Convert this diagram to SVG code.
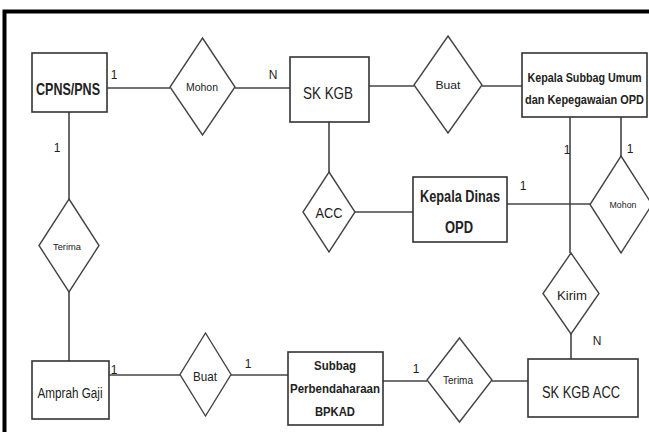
<svg xmlns="http://www.w3.org/2000/svg" width="649" height="432" viewBox="0 0 649 432">
<style>
.ent{fill:#fff;stroke:#333;stroke-width:1.6}
.rel{fill:#fff;stroke:#444;stroke-width:1.4}
.ln{stroke:#444;stroke-width:1.6;fill:none}
text{font-family:"Liberation Sans",Arial,sans-serif;fill:#222;text-anchor:middle}
.b{font-weight:bold}
.c{font-size:12px}
</style>
<rect width="649" height="432" fill="#fff"/>
<path d="M4.5 440 V11.5 H660" fill="none" stroke="#000" stroke-width="4"/>
<g id="connectors">
<line class="ln" x1="107" y1="88" x2="170" y2="88"/>
<line class="ln" x1="235" y1="88" x2="290" y2="88"/>
<line class="ln" x1="369" y1="86" x2="414" y2="86"/>
<line class="ln" x1="482" y1="86" x2="522" y2="86"/>
<line class="ln" x1="69" y1="112" x2="69" y2="199"/>
<line class="ln" x1="69" y1="292" x2="69" y2="361"/>
<line class="ln" x1="329" y1="122" x2="329" y2="172"/>
<line class="ln" x1="355" y1="212" x2="413" y2="212"/>
<line class="ln" x1="507" y1="204" x2="590" y2="204"/>
<line class="ln" x1="570" y1="117" x2="570" y2="253"/>
<line class="ln" x1="621" y1="117" x2="621" y2="156"/>
<line class="ln" x1="571" y1="334" x2="571" y2="359"/>
<line class="ln" x1="109" y1="375" x2="180" y2="375"/>
<line class="ln" x1="231" y1="375" x2="288" y2="375"/>
<line class="ln" x1="383" y1="381" x2="427" y2="381"/>
<line class="ln" x1="492" y1="381" x2="528" y2="381"/>
<text class="c" x="114" y="79">1</text>
<text class="c" x="273" y="79">N</text>
<text class="c" x="57" y="152">1</text>
<text class="c" x="567" y="154">1</text>
<text class="c" x="630" y="153">1</text>
<text class="c" x="523" y="190">1</text>
<text class="c" x="114" y="374">1</text>
<text class="c" x="248" y="368">1</text>
<text class="c" x="416" y="373">1</text>
<text class="c" x="597" y="345">N</text>
</g>
<g id="cpns">
<rect class="ent" x="32" y="53" width="75" height="59"/>
<text class="b" x="68" y="95" font-size="17" textLength="64" lengthAdjust="spacingAndGlyphs">CPNS/PNS</text>
</g>
<g id="mohon1">
<polygon class="rel" points="202.5,38 235,87 202.5,135 170,87"/>
<text x="202" y="91" font-size="10" textLength="32" lengthAdjust="spacingAndGlyphs">Mohon</text>
</g>
<g id="skkgb">
<rect class="ent" x="290" y="57" width="79" height="65"/>
<text x="328" y="99" font-size="17" textLength="50" lengthAdjust="spacingAndGlyphs">SK KGB</text>
</g>
<g id="buat1">
<polygon class="rel" points="448,36 482,85 448,133 414,85"/>
<text x="448" y="89" font-size="11" textLength="25" lengthAdjust="spacingAndGlyphs">Buat</text>
</g>
<g id="kasubbag">
<rect class="ent" x="522" y="53" width="125" height="64"/>
<text class="b" x="584.5" y="82" font-size="13" textLength="114" lengthAdjust="spacingAndGlyphs">Kepala Subbag Umum</text>
<text class="b" x="584.5" y="104" font-size="13" textLength="119" lengthAdjust="spacingAndGlyphs">dan Kepegawaian OPD</text>
</g>
<g id="acc">
<polygon class="rel" points="329,172 355,212 329,252 303,212"/>
<text x="329" y="218" font-size="14" textLength="27" lengthAdjust="spacingAndGlyphs">ACC</text>
</g>
<g id="kadinas">
<rect class="ent" x="413" y="177" width="94" height="65"/>
<text class="b" x="460" y="202" font-size="16" textLength="80" lengthAdjust="spacingAndGlyphs">Kepala Dinas</text>
<text class="b" x="459" y="233" font-size="16" textLength="28" lengthAdjust="spacingAndGlyphs">OPD</text>
</g>
<g id="mohon2">
<polygon class="rel" points="621,156 652,204.5 621,253 590,204.5"/>
<text x="623" y="208" font-size="9" textLength="27" lengthAdjust="spacingAndGlyphs">Mohon</text>
</g>
<g id="kirim">
<polygon class="rel" points="571,253 599,293.5 571,334 543,293.5"/>
<text x="572" y="300" font-size="13" textLength="30" lengthAdjust="spacingAndGlyphs">Kirim</text>
</g>
<g id="terima1">
<polygon class="rel" points="69,199 99,245.5 69,292 39,245.5"/>
<text x="67" y="250" font-size="9" textLength="28" lengthAdjust="spacingAndGlyphs">Terima</text>
</g>
<g id="amprah">
<rect class="ent" x="32" y="361" width="77" height="58"/>
<text x="70" y="398" font-size="14" textLength="65" lengthAdjust="spacingAndGlyphs">Amprah Gaji</text>
</g>
<g id="buat2">
<polygon class="rel" points="205.5,333 231,374.5 205.5,416 180,374.5"/>
<text x="205" y="381" font-size="13" textLength="24" lengthAdjust="spacingAndGlyphs">Buat</text>
</g>
<g id="subbag">
<rect class="ent" x="288" y="352" width="95" height="73"/>
<text class="b" x="335" y="370" font-size="13" textLength="42" lengthAdjust="spacingAndGlyphs">Subbag</text>
<text class="b" x="335" y="393" font-size="13" textLength="90" lengthAdjust="spacingAndGlyphs">Perbendaharaan</text>
<text class="b" x="335" y="416" font-size="13" textLength="40" lengthAdjust="spacingAndGlyphs">BPKAD</text>
</g>
<g id="terima2">
<polygon class="rel" points="459.5,338 492,380 459.5,422 427,380"/>
<text x="458" y="384" font-size="10" textLength="30" lengthAdjust="spacingAndGlyphs">Terima</text>
</g>
<g id="skkgbacc">
<rect class="ent" x="528" y="359" width="110" height="58"/>
<text x="581" y="398" font-size="16" textLength="78" lengthAdjust="spacingAndGlyphs">SK KGB ACC</text>
</g>
</svg>
